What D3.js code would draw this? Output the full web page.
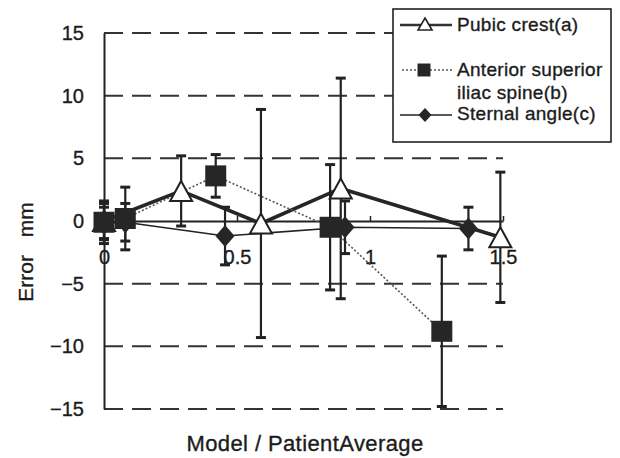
<!DOCTYPE html>
<html>
<head>
<meta charset="utf-8">
<script src="https://cdn.jsdelivr.net/npm/d3@7"></script>
<style>
  body { margin: 0; background: #fff; }
  text { font-family: "Liberation Sans", Arial, sans-serif; fill: #1c1c1c; stroke: #1c1c1c; stroke-width: 0.35; }
</style>
</head>
<body>
<svg id="chart" width="620" height="458"></svg>
<script>
// x = Model / PatientAverage, y = error in mm, err = half length of the error bar
const pubicX = [0, 0.29, 0.59, 0.89, 1.49];
const pubicY = [0, 2.4, -0.2, 2.6, -1.3];
const pubicErr = [1.4, 2.8, 9.1, 8.8, 5.2];

const asisX = [0, 0.08, 0.42, 0.85, 1.27];
const asisY = [-0.1, 0.2, 3.6, -0.5, -8.8];
const asisErr = [1.7, 2.5, 1.7, 5.0, 6.0];

const sternalX = [0, 0.08, 0.455, 0.906, 1.37];
const sternalY = [-0.2, -0.1, -1.2, -0.5, -0.6];
const sternalErr = [1.3, 1.5, 2.3, 2.1, 1.7];

const yTicks = [15, 10, 5, 0, -5, -10, -15];
const xTicks = [0, 0.5, 1, 1.5];
const legendLabels = [["Pubic crest(a)"], ["Anterior superior", "iliac spine(b)"], ["Sternal angle(c)"]];

const ink = "#222";
const svg = d3.select("#chart");

const x = d3.scaleLinear().domain([0, 1.5]).range([104, 503]);
const y = d3.scaleLinear().domain([-15, 15]).range([409, 33]);

// marker shapes
function tri(cx, cy, w, h) {
  return `M${cx},${cy - h / 2}L${cx + w / 2},${cy + h / 2}L${cx - w / 2},${cy + h / 2}Z`;
}
function sq(cx, cy, s) {
  return `M${cx - s / 2},${cy - s / 2}h${s}v${s}h${-s}Z`;
}
function dia(cx, cy, w, h) {
  return `M${cx},${cy - h / 2}L${cx + w / 2},${cy}L${cx},${cy + h / 2}L${cx - w / 2},${cy}Z`;
}

// dashed grid
svg.append("g").selectAll("line")
  .data(yTicks.filter(d => d !== 0))
  .join("line")
  .attr("x1", x(0)).attr("x2", x(1.5))
  .attr("y1", d => y(d)).attr("y2", d => y(d))
  .attr("stroke", "#333").attr("stroke-width", 2)
  .attr("stroke-dasharray", "19,9");

// y axis
const yAxis = svg.append("g")
  .attr("transform", `translate(${x(0)},0)`)
  .call(d3.axisLeft(y).tickValues(yTicks).tickSize(0).tickPadding(20)
    .tickFormat(d => d < 0 ? "\u2212" + Math.abs(d) : d));
yAxis.select(".domain").attr("stroke", ink).attr("stroke-width", 2);
yAxis.selectAll("text").attr("font-size", 20).style("font-family", "Liberation Sans, Arial, sans-serif").attr("fill", "#1c1c1c");

// x axis on the zero line
const xAxis = svg.append("g")
  .attr("transform", `translate(0,${y(0)})`)
  .call(d3.axisBottom(x).tickValues(xTicks).tickSizeInner(-5).tickSizeOuter(0).tickPadding(29)
    .tickFormat(d => d));
xAxis.select(".domain").attr("stroke", ink).attr("stroke-width", 1.8);
xAxis.selectAll(".tick line").attr("stroke", ink).attr("stroke-width", 1.5);
xAxis.selectAll("text").attr("font-size", 20).style("font-family", "Liberation Sans, Arial, sans-serif").attr("fill", "#1c1c1c");

const series = [
  { xs: pubicX, ys: pubicY, es: pubicErr, width: 3.6, dash: null, color: "#262626" },
  { xs: asisX, ys: asisY, es: asisErr, width: 1.6, dash: "2,2", color: "#555" },
  { xs: sternalX, ys: sternalY, es: sternalErr, width: 1.6, dash: null, color: ink }
];

const line = d3.line().x(d => x(d[0])).y(d => y(d[1]));

// connecting lines
series.forEach(s => {
  const pts = s.xs.map((v, i) => [v, s.ys[i]]);
  svg.append("path")
    .attr("d", line(pts))
    .attr("fill", "none")
    .attr("stroke", s.color)
    .attr("stroke-width", s.width)
    .attr("stroke-dasharray", s.dash);
});

// error bars
series.forEach(s => {
  const g = svg.append("g").attr("stroke", ink);
  s.xs.forEach((v, i) => {
    const cx = x(v), top = y(s.ys[i] + s.es[i]), bot = y(s.ys[i] - s.es[i]);
    g.append("line").attr("x1", cx).attr("x2", cx).attr("y1", top).attr("y2", bot).attr("stroke-width", 2.2);
    g.append("line").attr("x1", cx - 5).attr("x2", cx + 5).attr("y1", top).attr("y2", top).attr("stroke-width", 3);
    g.append("line").attr("x1", cx - 5).attr("x2", cx + 5).attr("y1", bot).attr("y2", bot).attr("stroke-width", 3);
  });
});

// markers
svg.append("g").selectAll("path")
  .data(pubicX.map((v, i) => [v, pubicY[i]]))
  .join("path")
  .attr("d", d => tri(x(d[0]), y(d[1]), 22, 20))
  .attr("fill", "#fff").attr("stroke", ink).attr("stroke-width", 2);

svg.append("g").selectAll("path")
  .data(asisX.map((v, i) => [v, asisY[i]]))
  .join("path")
  .attr("d", d => sq(x(d[0]), y(d[1]), 21))
  .attr("fill", "#262626");

svg.append("g").selectAll("path")
  .data(sternalX.map((v, i) => [v, sternalY[i]]))
  .join("path")
  .attr("d", d => dia(x(d[0]), y(d[1]), 19, 22))
  .attr("fill", "#262626");

// legend
const lg = svg.append("g");
lg.append("rect")
  .attr("x", 393).attr("y", 9).attr("width", 218).attr("height", 133)
  .attr("fill", "#fff").attr("stroke", ink).attr("stroke-width", 1.6);

const legendRows = [25, 70, 115];
// a
lg.append("line").attr("x1", 400).attr("x2", 452).attr("y1", legendRows[0]).attr("y2", legendRows[0])
  .attr("stroke", "#333").attr("stroke-width", 2.6);
lg.append("path").attr("d", tri(425, legendRows[0] - 1, 14, 12)).attr("fill", "#fff").attr("stroke", ink).attr("stroke-width", 1.6);
// b
lg.append("line").attr("x1", 402).attr("x2", 452).attr("y1", legendRows[1]).attr("y2", legendRows[1])
  .attr("stroke", "#555").attr("stroke-width", 1.4).attr("stroke-dasharray", "2,2");
lg.append("path").attr("d", sq(424, legendRows[1], 13)).attr("fill", "#262626");
// c
lg.append("line").attr("x1", 400).attr("x2", 452).attr("y1", legendRows[2]).attr("y2", legendRows[2])
  .attr("stroke", ink).attr("stroke-width", 1.4);
lg.append("path").attr("d", dia(425, legendRows[2], 13, 14)).attr("fill", "#262626");

const legendBase = [[31], [76, 99], [120]];
legendLabels.forEach((lines, i) => {
  lines.forEach((t, j) => {
    lg.append("text")
      .attr("x", 457).attr("y", legendBase[i][j])
      .attr("font-size", 19)
      .attr("letter-spacing", 0.3)
      .text(t);
  });
});

// axis titles
svg.append("text")
  .attr("x", 305).attr("y", 451)
  .attr("text-anchor", "middle")
  .attr("font-size", 22)
  .attr("letter-spacing", 0.4)
  .text("Model / PatientAverage");

svg.append("text")
  .attr("transform", "translate(33,252) rotate(-90)")
  .attr("text-anchor", "middle")
  .attr("font-size", 21)
  .attr("word-spacing", 12)
  .text("Error mm");
</script>
</body>
</html>
